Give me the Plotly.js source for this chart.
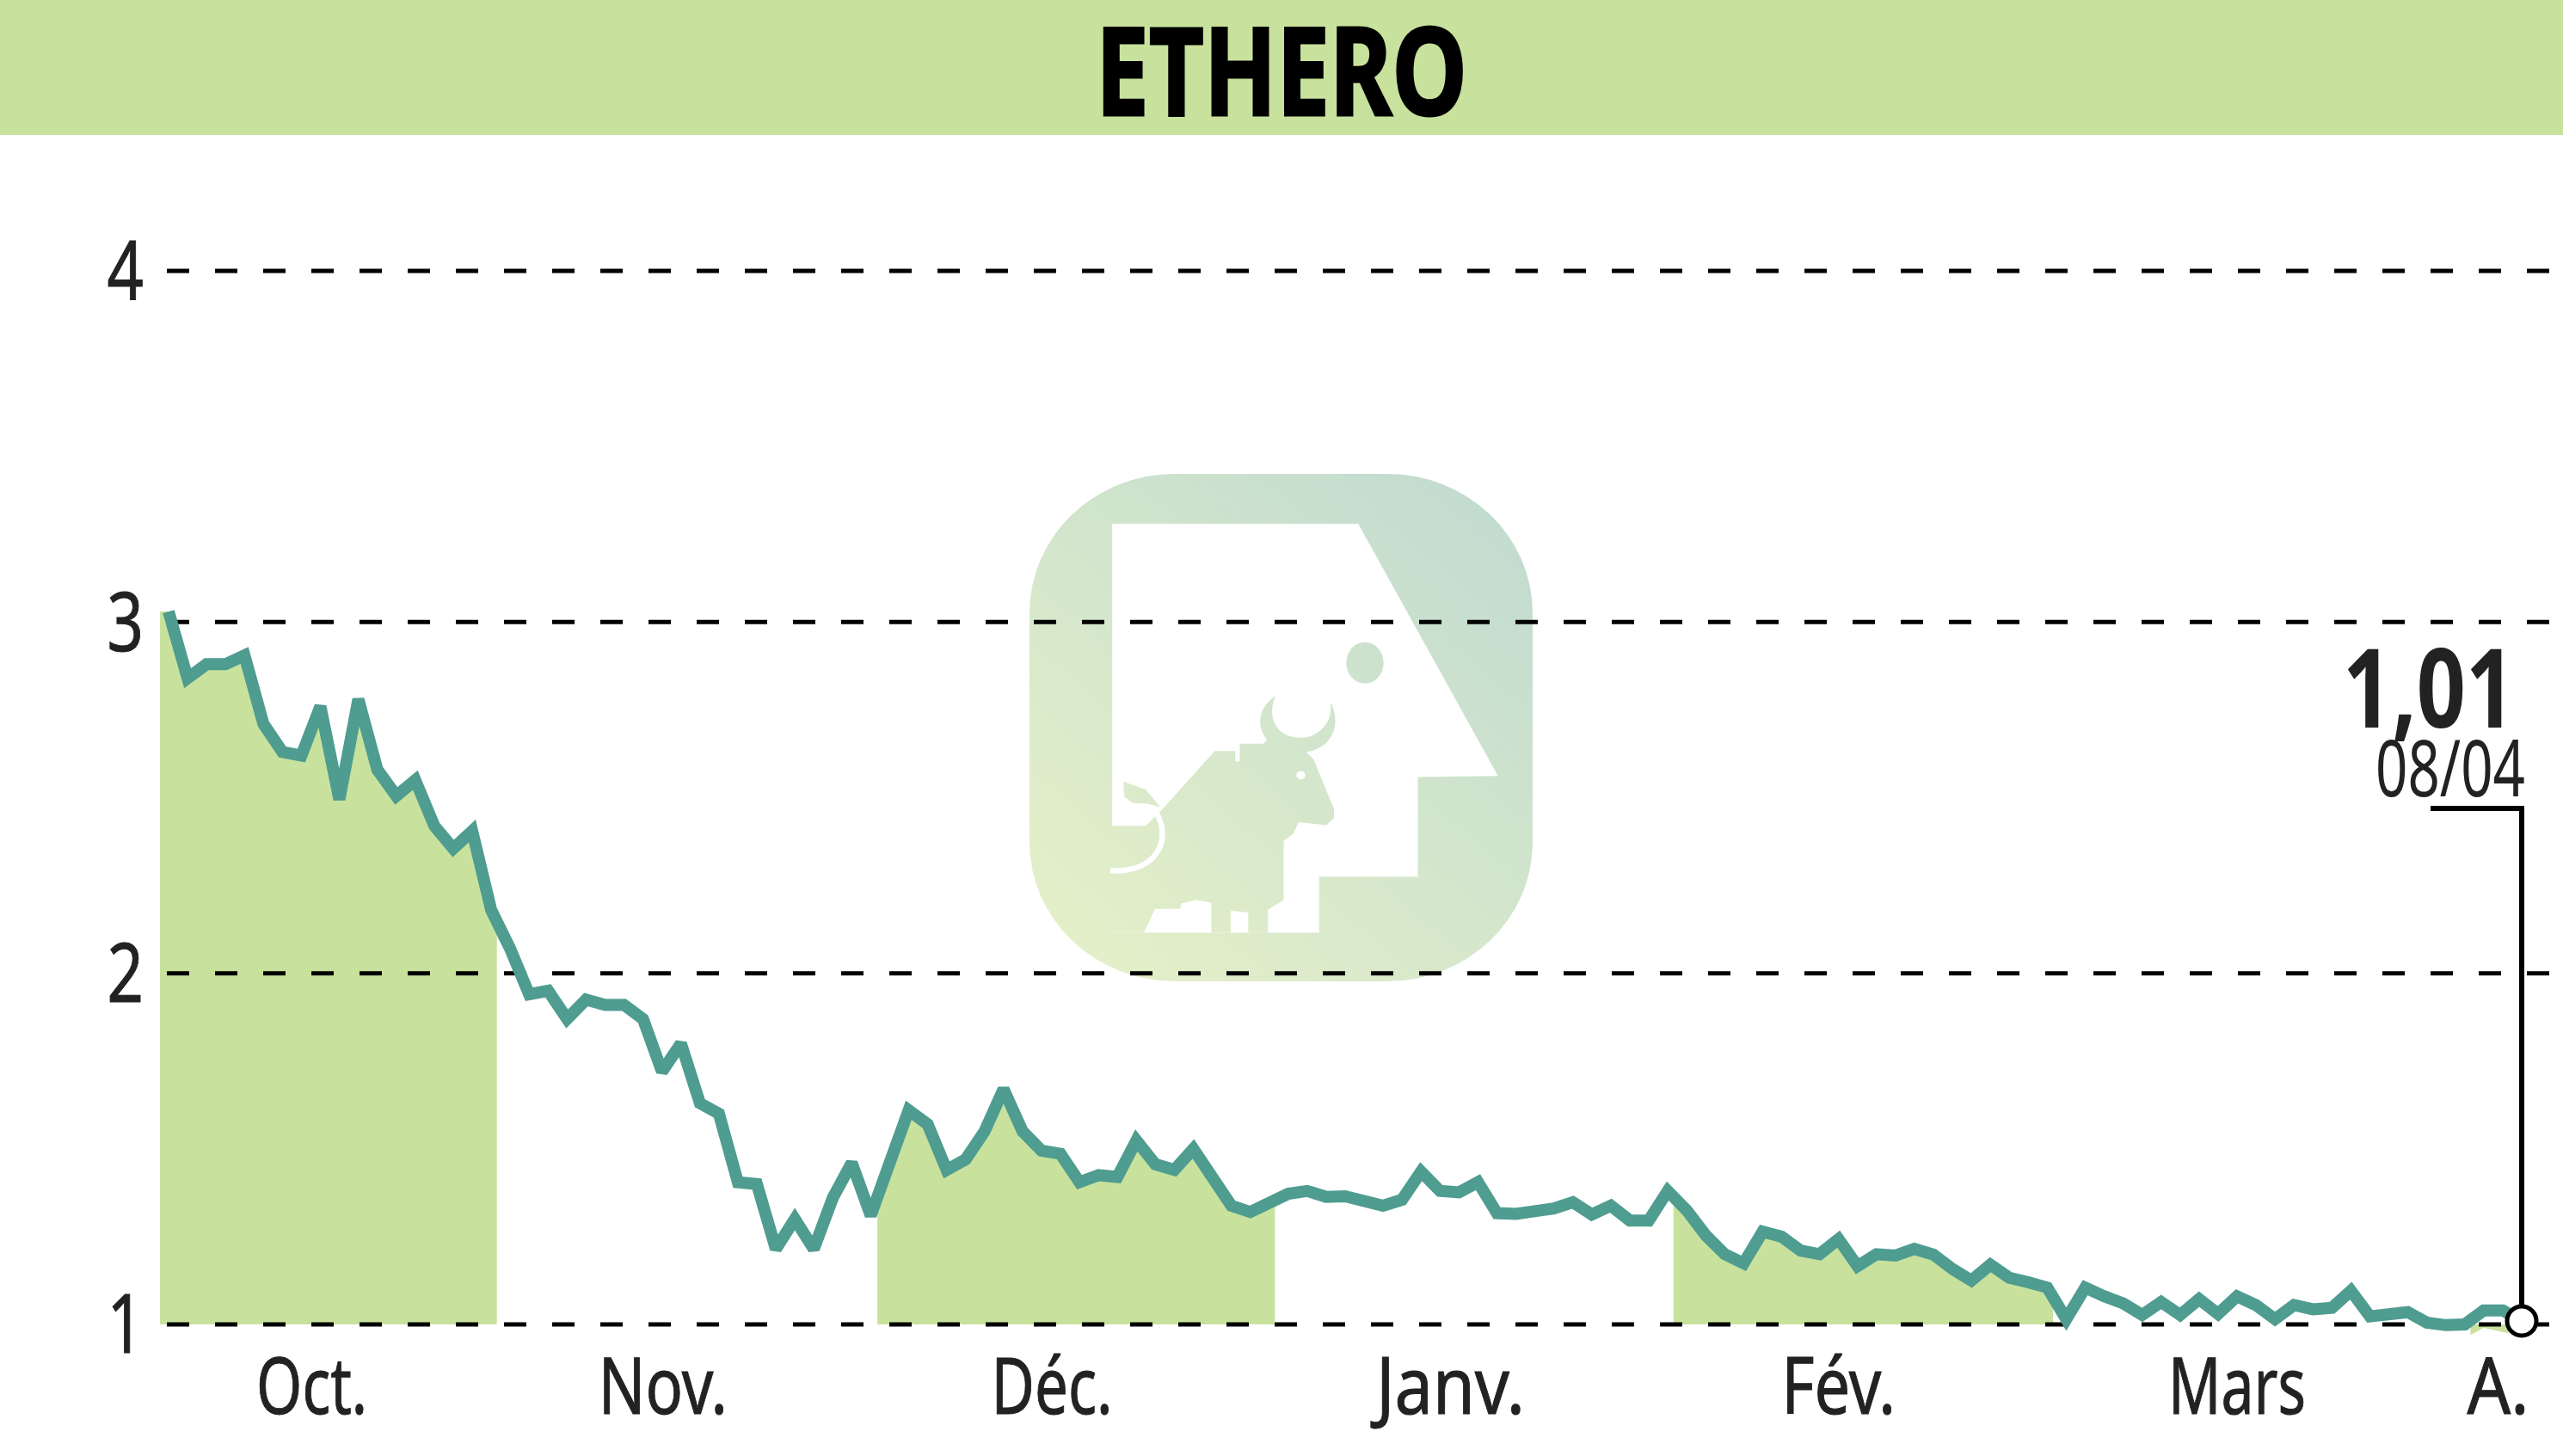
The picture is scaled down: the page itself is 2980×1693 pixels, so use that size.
<!DOCTYPE html>
<html>
<head>
<meta charset="utf-8">
<script src="https://cdn.plot.ly/plotly-3.0.1.min.js"></script>
<style>
  html, body { margin: 0; padding: 0; background: #fff; }
  .js-line { stroke-linejoin: miter !important; }
  .gtitle { stroke: #000; stroke-width: 3px; }
  .xtick text, .ytick text { stroke: #222; stroke-width: 1px; }
</style>
</head>
<body>
<div id="chart" style="width:2980px;height:1693px"></div>
<script>
// closing prices, one per session
var prices = [
  3.03, 2.84, 2.88, 2.88, 2.905, 2.71, 2.63, 2.62, 2.76, 2.495,
  2.78, 2.58, 2.505, 2.55, 2.42, 2.355, 2.405, 2.18, 2.07, 1.94,
  1.95, 1.87, 1.925, 1.91, 1.91, 1.87, 1.72, 1.80, 1.63, 1.60,
  1.405, 1.40, 1.215, 1.30, 1.215, 1.36, 1.46, 1.31, 1.46, 1.61,
  1.57, 1.44, 1.47, 1.55, 1.67, 1.55, 1.495, 1.486, 1.405, 1.425,
  1.42, 1.524, 1.456, 1.44, 1.50, 1.42, 1.338, 1.32, 1.35, 1.372,
  1.38, 1.363, 1.365, 1.347, 1.338, 1.355, 1.435, 1.38, 1.376, 1.405,
  1.317, 1.315, 1.32, 1.33, 1.348, 1.313, 1.338, 1.296, 1.296, 1.38,
  1.325, 1.254, 1.20, 1.174, 1.264, 1.25, 1.21, 1.20, 1.243, 1.166,
  1.20, 1.196, 1.215, 1.199, 1.158, 1.125, 1.17, 1.133, 1.12, 1.105,
  1.015, 1.105, 1.08, 1.06, 1.027, 1.064, 1.027, 1.072, 1.03, 1.08,
  1.055, 1.015, 1.055, 1.043, 1.047, 1.096, 1.023, 1.027, 1.035, 1.005,
  0.998, 1.0, 1.04, 1.04, 1.01
];
var months = ["Oct.", "Nov.", "Déc.", "Janv.", "Fév.", "Mars", "A."];
var monthCenters = [7.55, 26.05, 46.55, 67.55, 88, 109, 122.75];
// shaded months, from session to session
var bandStart = [-0.45, 37.35, 79.3];
var bandEnd = [17.3, 58.3, 99.3];
var aprilX = [121.3, 122, 123.3];
var aprilY = [0.97, 0.99, 0.975];
var yTicks = [1, 2, 3, 4];
var lastLabel = "1,01";
var lastDate = "08/04";

var green = "#c8e29d";
var teal = "#4f9c90";
var ink = "#222222";
var face = "Noto Sans";

var W = 2980, H = 1693;
var plotL = 186, plotR = 2980, plotT = 200, plotB = 1552;
var firstPx = 196, lastPx = 2932, y1Px = 1540, unitPx = 408.33;
var last = prices.length - 1;
var step = (lastPx - firstPx) / last;
function pxToX(px) { return (px - firstPx) / step; }
function pxToY(px) { return 1 + (y1Px - px) / unitPx; }

function priceAt(x) {
  if (x <= 0) return prices[0];
  var i = Math.floor(x), f = x - i;
  return prices[i] + (prices[Math.min(i + 1, last)] - prices[i]) * f;
}

var traces = [];

// green month bands, under everything else
for (var b = 0; b < bandStart.length; b++) {
  var bx = [bandStart[b]], by = [priceAt(bandStart[b])];
  for (var k = Math.max(0, Math.ceil(bandStart[b])); k <= bandEnd[b]; k++) {
    bx.push(k);
    by.push(prices[k]);
  }
  bx.push(bandEnd[b], bandEnd[b], bandStart[b]);
  by.push(priceAt(bandEnd[b]), 1, 1);
  traces.push({
    x: bx, y: by, mode: "lines", fill: "toself", fillcolor: green,
    line: { width: 0 }, hoverinfo: "skip"
  });
}
traces.push({
  x: aprilX.concat([aprilX[2], aprilX[0]]), y: aprilY.concat([1, 1]),
  mode: "lines", fill: "toself", fillcolor: green, line: { width: 0 }, hoverinfo: "skip"
});

// dashed levels sit above the bands, below the price line
yTicks.forEach(function (v) {
  traces.push({
    x: [pxToX(194), pxToX(plotR)], y: [v, v], mode: "lines",
    line: { color: "#000", width: 5, dash: "26px,30px" }, hoverinfo: "skip"
  });
});

traces.push({
  x: prices.map(function (p, i) { return i; }), y: prices, mode: "lines",
  line: { color: teal, width: 14, shape: "linear" }, hoverinfo: "skip"
});

// last value callout
traces.push({
  x: [pxToX(2826), last, last], y: [pxToY(940), pxToY(940), prices[last]],
  mode: "lines", line: { color: "#000", width: 6 }, hoverinfo: "skip"
});
traces.push({
  x: [last], y: [prices[last]], mode: "markers", cliponaxis: false,
  marker: { size: 34, color: "#fff", line: { color: "#000", width: 5 } },
  hoverinfo: "skip"
});

// watermark, in its own coordinates
var logo =
  '<svg xmlns="http://www.w3.org/2000/svg" width="585" height="590" viewBox="108 75 1350 1423" preserveAspectRatio="none">' +
  '<defs><linearGradient id="g" gradientUnits="userSpaceOnUse" x1="200" y1="1450" x2="1400" y2="130">' +
  '<stop offset="0" stop-color="#e5f0c8"/><stop offset="1" stop-color="#c1dbd0"/></linearGradient></defs>' +
  '<rect x="108" y="75" width="1350" height="1423" rx="390" ry="390" fill="url(#g)"/>' +
  '<polygon fill="#fff" points="330,215 990,215 1365,922 1150,925 1150,1205 885,1205 885,1362 330,1362"/>' +
  '<path fill="url(#g)" d="M465,1015 L605,852 L660,852 L660,882 L672,882 L672,832 L735,832 L745,820 C720,790 715,735 768,698 C745,750 765,815 835,815 C880,815 925,775 915,715 C945,770 925,845 850,855 L870,875 L925,1015 L925,1040 L905,1060 L830,1052 L815,1085 L790,1105 L790,1270 L748,1297 L748,1362 L695,1362 L695,1305 L648,1300 L648,1362 L596,1362 L596,1278 L555,1270 L515,1280 L512,1295 L445,1295 L415,1362 L320,1362 L320,1062 L420,1062 Z"/>' +
  '<polygon fill="url(#g)" points="360,938 420,960 460,1010 425,1000 385,998 362,980"/>' +
  '<path d="M445,1020 C490,1090 460,1195 325,1188" fill="none" stroke="#fff" stroke-width="15"/>' +
  '<circle cx="836" cy="920" r="12" fill="#fff"/>' +
  '<ellipse cx="1008" cy="605" rx="50" ry="58" fill="url(#g)"/>' +
  '</svg>';

function paperX(px) { return (px - plotL) / (plotR - plotL); }
function paperY(px) { return (plotB - px) / (plotB - plotT); }

var layout = {
  width: W,
  height: H,
  margin: { l: plotL, r: W - plotR, t: plotT, b: H - plotB, pad: 0 },
  paper_bgcolor: "#fff",
  plot_bgcolor: "rgba(0,0,0,0)",
  showlegend: false,
  title: {
    text: "<b>ETHERO</b>",
    font: { family: face, size: 142, color: "#000" },
    x: 0.5, xref: "container", xanchor: "center",
    y: 1 - 84 / H, yref: "container", yanchor: "middle"
  },
  xaxis: {
    range: [pxToX(plotL), pxToX(plotR)],
    tickmode: "array",
    tickvals: monthCenters,
    ticktext: months,
    showgrid: false, zeroline: false, showline: false,
    ticks: "", ticklabelstandoff: 0,
    tickangle: 0,
    tickfont: { family: face, size: 91, color: ink }
  },
  yaxis: {
    range: [pxToY(plotB), pxToY(plotT)],
    tickmode: "array",
    tickvals: yTicks,
    ticktext: yTicks.map(String),
    showgrid: false, zeroline: false, showline: false,
    ticks: "", ticklabelstandoff: 18,
    tickfont: { family: face, size: 95, color: ink }
  },
  shapes: [{
    type: "rect", layer: "below", xref: "paper", yref: "paper",
    x0: paperX(0), x1: paperX(W), y0: paperY(157), y1: paperY(0),
    fillcolor: green, line: { width: 0 }
  }],
  images: [{
    source: "data:image/svg+xml;charset=utf-8," + encodeURIComponent(logo),
    xref: "paper", yref: "paper", layer: "below",
    x: paperX(1197), y: paperY(551), sizex: 585 / (plotR - plotL), sizey: 590 / (plotB - plotT),
    xanchor: "left", yanchor: "top", sizing: "stretch"
  }],
  annotations: [
    {
      text: "<b>" + lastLabel + "</b>", xref: "paper", yref: "paper",
      x: paperX(2824), y: paperY(796), xanchor: "center", yanchor: "middle",
      showarrow: false, font: { family: face, size: 127, color: ink }
    },
    {
      text: lastDate, xref: "paper", yref: "paper",
      x: paperX(2849), y: paperY(891), xanchor: "center", yanchor: "middle",
      showarrow: false, font: { family: face, size: 91, color: ink }
    }
  ]
};

// no condensed face installed, so squeeze the text to the reference's set width
function squeezeTo(node, width) {
  node.setAttribute("textLength", width);
  node.setAttribute("lengthAdjust", "spacingAndGlyphs");
}

var monthWidths = [129, 150, 141, 173, 133, 160, 72];
var labelWidths = [200, 174];

Plotly.newPlot("chart", traces, layout, { staticPlot: true, displayModeBar: false }).then(function () {
  squeezeTo(document.querySelector(".gtitle"), 432);
  document.querySelectorAll(".xtick text").forEach(function (t, i) { squeezeTo(t, monthWidths[i]); });
  document.querySelectorAll(".ytick text").forEach(function (t) { squeezeTo(t, t.getComputedTextLength() * 0.78); });
  document.querySelectorAll(".annotation-text").forEach(function (t, i) { squeezeTo(t, labelWidths[i]); });
});
</script>
</body>
</html>
